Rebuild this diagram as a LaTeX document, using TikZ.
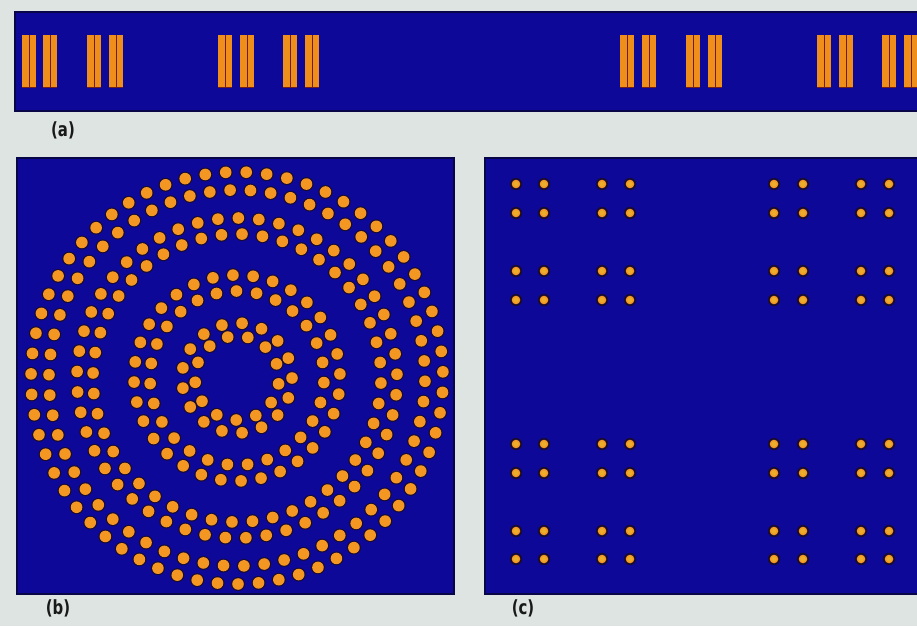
\documentclass[tikz,border=0pt]{standalone}
\usepackage{fontspec}
\setmainfont{Liberation Sans}
\newfontfamily\lblfont{DejaVu Sans Condensed}[BoldFont={DejaVu Sans Condensed Bold}]
\definecolor{pagebg}{RGB}{221,228,225}
\definecolor{panelblue}{RGB}{14,8,152}
\definecolor{paneledge}{RGB}{8,6,70}
\definecolor{dotor}{RGB}{244,150,34}
\definecolor{dothalo}{RGB}{24,10,50}
\definecolor{barorange}{RGB}{240,142,28}
\definecolor{barsep}{RGB}{110,30,30}
\definecolor{cdot}{RGB}{236,172,44}
\tikzset{
  panelbox/.style={fill=panelblue, draw=paneledge, line width=1.5pt},
  lbl/.style={inner sep=0pt, text=black!90, font=\lblfont\bfseries\fontsize{19.5}{19.5}\selectfont},
}
\begin{document}
\begin{tikzpicture}[x=1pt,y=-1pt]
\useasboundingbox (0,0) rectangle (917,626);
\fill[pagebg] (0,0) rectangle (917,626);

% ---- panel (a)
\draw[panelbox] (15,12) rectangle (925,111);
\foreach \x in {22,43,87,109,218,240,283,305,620,642,686,708,817,839,882,904}{
  \fill[barorange] (\x,35) rectangle ++(14,52);
  \draw[barsep, line width=0.8pt] (\x,87) -- ++(14,0);
  \draw[barsep, line width=1pt] ({\x+7},35) -- ({\x+7},87);
}
\node[lbl] (la) at (63,130) {\scalebox{0.85}[1]{(a)}};

% ---- panel (b)
\draw[panelbox] (17,158) rectangle (454,594);
\begin{scope}[shift={(237,378)}]
\foreach \r/\n/\o in {42/13/8, 55/17/0, 87/27/3, 103/32/9, 144/44/2, 160/49/6, 188/58/1, 206/63/4}{
  \foreach \k in {1,...,\n}{
    \pgfmathsetmacro{\ang}{\o+(360/\n)*\k}
    \fill[dothalo] (\ang:\r) circle (7pt);
    \fill[dotor] (\ang:\r) circle (5.8pt);
  }
}
\end{scope}
\node[lbl] (lb) at (58,608) {\scalebox{0.85}[1]{(b)}};

% ---- panel (c)
\draw[panelbox] (485,158) rectangle (925,594);
\foreach \x in {516,544,602,630,774,803,861,889}{
  \foreach \y in {184,213,271,300,444,473,531,559}{
    \fill[dothalo] (\x,\y) circle (6.2pt);
    \fill[dotor] (\x,\y) circle (4.3pt);
    \fill[cdot] (\x,\y) circle (2.8pt);
  }
}
\node[lbl] (lc) at (523,608) {\scalebox{0.85}[1]{(c)}};
\end{tikzpicture}
\end{document}
